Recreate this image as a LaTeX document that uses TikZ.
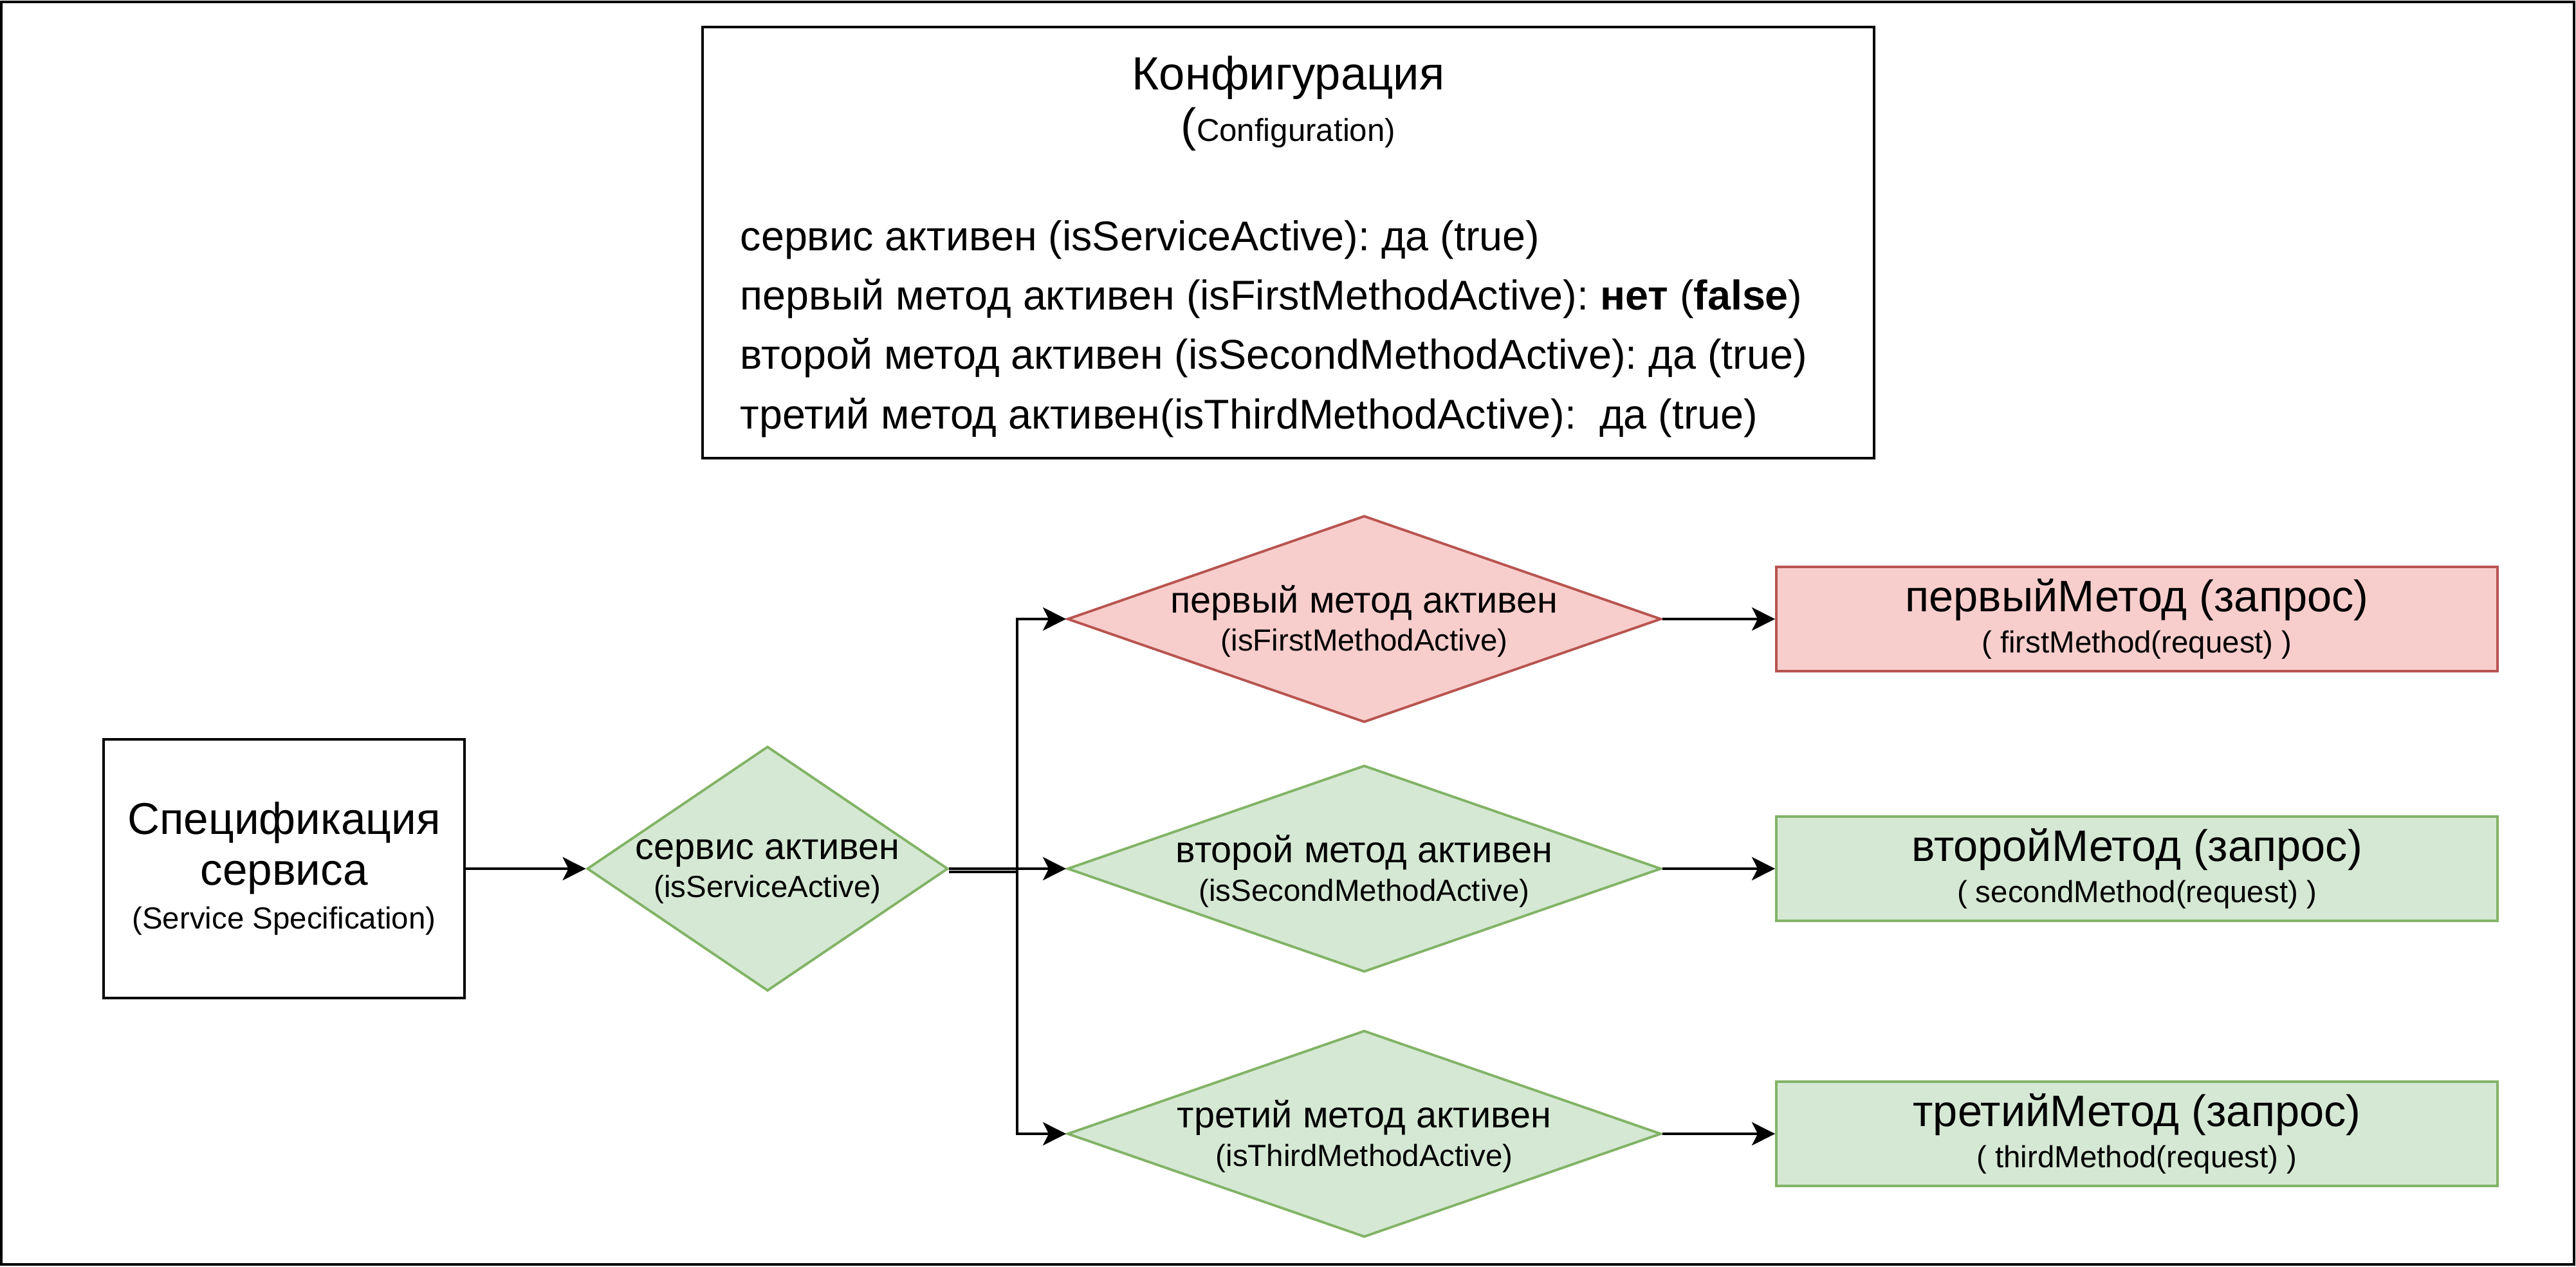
\documentclass[tikz,border=0pt]{standalone}
\usepackage{fontspec}
\setmainfont{Liberation Sans}
\usetikzlibrary{shapes.geometric,arrows.meta}
\definecolor{redfill}{HTML}{F8CECC}
\definecolor{redline}{HTML}{B85450}
\definecolor{greenfill}{HTML}{D5E8D4}
\definecolor{greenline}{HTML}{82B366}
\newcommand{\subtext}[1]{{\fontsize{13.5}{16.8}\selectfont #1}}
\frenchspacing
\begin{document}
\begin{tikzpicture}[box/.style={draw, line width=1.1pt, inner sep=0pt, align=center},
                        cond/.style={draw, diamond, line width=1.1pt, inner sep=0pt,
                                     minimum width=9.23cm, minimum height=3.21cm},
                        condtext/.style={align=center, inner sep=0pt, font=\fontsize{16.4}{16.8}\selectfont},
                        methodbox/.style={box, minimum width=11.21cm, minimum height=1.62cm,
                                          font=\fontsize{19.5}{18.1}\selectfont},
                        inactive/.style={fill=redfill, draw=redline},
                        active/.style={fill=greenfill, draw=greenline},
                        flow/.style={-{Stealth[length=0.36cm, width=0.36cm, inset=0.09cm]}, line width=1.1pt},
                        ]
                        \useasboundingbox (0,0) rectangle (40.04,19.68);
                        %Rahmen
                        \draw [line width=1.2pt] (0.02,0.03) rectangle (40.01,19.65);
                        %Konfiguration
                        \node [box, minimum width=18.21cm, minimum height=6.70cm] (cfg) at (20.025,15.91) {};
                        \node [font=\fontsize{20.6}{24}\selectfont] (cfgtitle) at (20.025,18.47) {Конфигурация};
                        \node [font=\fontsize{20.6}{24}\selectfont] (cfgsub) at (20.025,17.67) {({\fontsize{14}{16}\selectfont Configuration)}};
                        \node [anchor=west, align=left, inner sep=0pt, font=\fontsize{18.4}{26.3}\selectfont] (cfglines) at (11.50,14.57)
                              {сервис активен (isServiceActive): да (true)\\
                               первый метод активен (isFirstMethodActive): \textbf{нет} (\textbf{false})\\
                               второй метод активен (isSecondMethodActive): да (true)\\
                               третий метод активен(isThirdMethodActive):\ \ да (true)};
                        %Spezifikation und Dienst
                        \node [box, minimum width=5.61cm, minimum height=4.02cm, font=\fontsize{19.7}{20.5}\selectfont] (spec) at (4.415,6.18)
                              {Спецификация\\[2pt]сервиса\\[-1pt]\subtext{(Service Specification)}};
                        \node [cond, active, minimum width=5.61cm, minimum height=3.80cm] (dserv) at (11.93,6.18) {};
                        \node [condtext] (tserv) at ([yshift=-0.04cm]dserv) {сервис активен\\\subtext{(isServiceActive)}};
                        %Rauten fuer die Methoden
                        \node [cond, inactive] (dfirst) at (21.205,10.06) {};
                        \node [condtext] (tfirst) at ([yshift=-0.04cm]dfirst) {первый метод активен\\\subtext{(isFirstMethodActive)}};
                        \node [cond, active] (dsecond) at (21.205,6.18) {};
                        \node [condtext] (tsecond) at ([yshift=-0.04cm]dsecond) {второй метод активен\\\subtext{(isSecondMethodActive)}};
                        \node [cond, active] (dthird) at (21.205,2.06) {};
                        \node [condtext] (tthird) at ([yshift=-0.04cm]dthird) {третий метод активен\\\subtext{(isThirdMethodActive)}};
                        %Methoden
                        \node [methodbox, inactive] (mfirst) at (33.215,10.06) {первыйМетод (запрос)\\\subtext{( firstMethod(request) )}};
                        \node [methodbox, active] (msecond) at (33.215,6.18) {второйМетод (запрос)\\\subtext{( secondMethod(request) )}};
                        \node [methodbox, active] (mthird) at (33.215,2.06) {третийМетод (запрос)\\\subtext{( thirdMethod(request) )}};
                        %Pfeile
                        \coordinate (trunk) at (15.81,6.13);
                        \draw [flow] (spec) -- (dserv);
                        \draw [flow] (dserv.east |- trunk) -- (trunk) |- (dfirst.west);
                        \draw [flow] (dserv) -- (dsecond);
                        \draw [flow] (dserv.east |- trunk) -- (trunk) |- (dthird.west);
                        \draw [flow] (dfirst) -- (mfirst);
                        \draw [flow] (dsecond) -- (msecond);
                        \draw [flow] (dthird) -- (mthird);
                \end{tikzpicture}
\end{document}
